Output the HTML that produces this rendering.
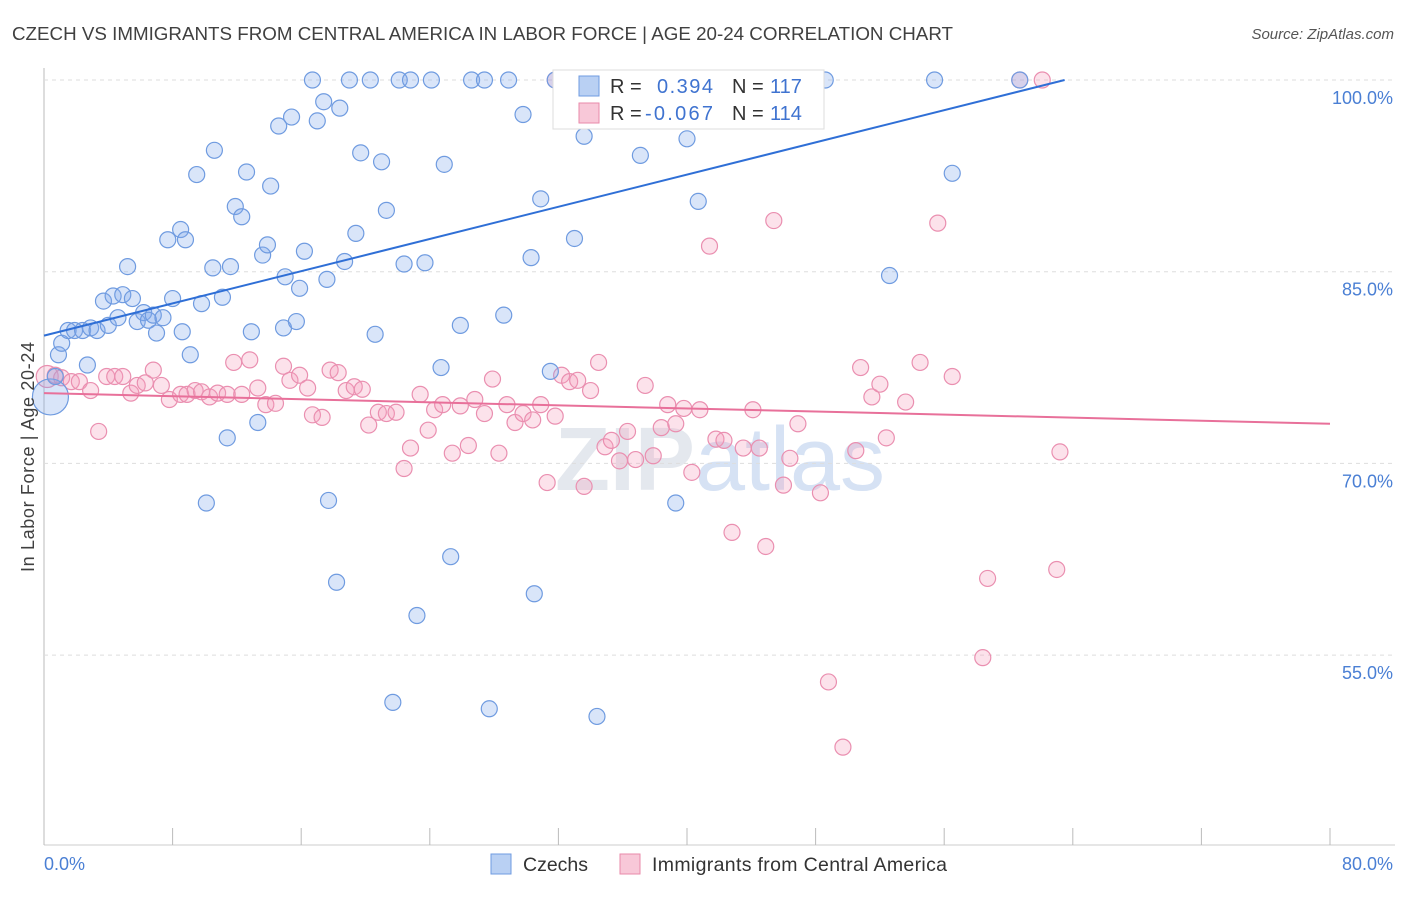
<!DOCTYPE html>
<html><head><meta charset="utf-8"><style>
body{margin:0;background:#fff;font-family:"Liberation Sans",sans-serif}
svg text{font-family:"Liberation Sans",sans-serif}
</style></head><body>
<svg id="c" width="1406" height="892">
<text x="12" y="40" font-size="18.5" fill="#404040" textLength="941" lengthAdjust="spacingAndGlyphs">CZECH VS IMMIGRANTS FROM CENTRAL AMERICA IN LABOR FORCE | AGE 20-24 CORRELATION CHART</text>
<text x="1394" y="39" font-size="15" fill="#555" font-style="italic" text-anchor="end">Source: ZipAtlas.com</text>
<text x="720" y="490" font-size="90" fill="#e4e8ee" text-anchor="middle" font-weight="bold">ZIP<tspan fill="#d6e2f4" font-weight="normal">atlas</tspan></text>
<g id="grid"></g><g id="pts"></g><g id="lines"></g>
<text transform="translate(34,457) rotate(-90)" font-size="18" fill="#404040" text-anchor="middle" textLength="230">In Labor Force | Age 20-24</text>
<text x="44" y="870" font-size="18" fill="#4a7fd4">0.0%</text>
<text x="1393" y="870" font-size="18" fill="#4a7fd4" text-anchor="end">80.0%</text>
<g>
<rect x="553" y="70" width="271" height="59" fill="#fff" stroke="#ddd"/>
<rect x="579" y="76" width="20" height="20" fill="#b9d0f3" stroke="#6f9be0"/>
<rect x="579" y="103" width="20" height="20" fill="#f8c8d8" stroke="#e98aaa"/>
<text x="610" y="93" font-size="20" fill="#333">R =</text>
<text x="657" y="93" font-size="20" fill="#3f73d0" textLength="56">0.394</text>
<text x="732" y="93" font-size="20" fill="#333">N =</text>
<text x="770" y="93" font-size="20" fill="#3f73d0">117</text>
<text x="610" y="120" font-size="20" fill="#333">R =</text>
<text x="645" y="120" font-size="20" fill="#3f73d0" textLength="68">-0.067</text>
<text x="732" y="120" font-size="20" fill="#333">N =</text>
<text x="770" y="120" font-size="20" fill="#3f73d0">114</text>
</g>
<g>
<rect x="491" y="854" width="20" height="20" fill="#b9d0f3" stroke="#6f9be0"/>
<text x="523" y="871" font-size="19.5" fill="#333" textLength="65">Czechs</text>
<rect x="620" y="854" width="20" height="20" fill="#f8c8d8" stroke="#e98aaa"/>
<text x="652" y="871" font-size="19.5" fill="#333" textLength="295">Immigrants from Central America</text>
</g>
</svg>
<script>
const yTicks=[100,85,70,55];
const yTickLabels=["100.0%","85.0%","70.0%","55.0%"];
const xTicks=[0,8,16,24,32,40,48,56,64,72,80];
const blueX=[0.4,0.7,0.9,1.1,1.5,1.9,2.4,2.9,3.3,4.0,2.7,3.7,4.3,4.9,5.5,4.6,5.2,5.8,6.2,6.5,6.8,7.0,7.4,8.0,8.6,9.1,7.7,8.5,8.8,9.5,10.6,10.5,11.6,11.1,9.8,11.9,12.3,12.6,12.9,13.6,13.9,14.1,14.6,15.4,15.0,14.9,15.7,15.9,16.2,17.0,17.4,18.4,17.6,18.7,19.4,19.7,21.0,21.3,20.6,22.4,23.7,24.9,25.9,24.7,28.6,30.3,30.9,29.8,33.0,33.6,37.1,40.0,40.7,52.6,56.5,31.5,16.7,19.0,20.3,22.1,22.8,24.1,26.6,27.4,28.9,31.8,35.5,41.3,43.3,44.5,48.6,55.4,60.7,11.4,13.3,10.1,17.7,18.2,25.3,30.5,23.2,21.7,27.7,34.4,39.3];
const blueY=[75.2,76.8,78.5,79.4,80.4,80.4,80.4,80.6,80.4,80.8,77.7,82.7,83.1,83.2,82.9,81.4,85.4,81.1,81.8,81.2,81.6,80.2,81.4,82.9,80.3,78.5,87.5,88.3,87.5,92.6,94.5,85.3,85.4,83.0,82.5,90.1,89.3,92.8,80.3,86.3,87.1,91.7,96.4,97.1,84.6,80.6,81.1,83.7,86.6,96.8,98.3,97.8,84.4,85.8,88.0,94.3,93.6,89.8,80.1,85.6,85.7,93.4,80.8,77.5,81.6,86.1,90.7,97.3,87.6,95.6,94.1,95.4,90.5,84.7,92.7,77.2,100,100,100,100,100,100,100,100,100,100,100,100,100,100,100,100,100,72.0,73.2,66.9,67.1,60.7,62.7,59.8,58.1,51.3,50.8,50.2,66.9];
const pinkX=[0.2,0.7,1.1,1.7,2.2,2.9,3.4,3.9,4.4,4.9,5.4,5.8,6.3,6.8,7.3,7.8,8.5,8.9,9.4,9.8,10.3,10.8,11.4,11.8,12.3,12.8,13.3,13.8,14.4,14.9,15.3,15.9,16.4,16.7,17.3,17.8,18.3,18.8,19.3,19.8,20.2,20.8,21.3,21.9,22.4,22.8,23.4,23.9,24.3,24.8,25.4,25.9,26.4,26.8,27.4,27.9,28.3,28.8,29.3,29.8,30.4,30.9,31.3,31.8,32.2,32.7,33.2,33.6,34.0,34.5,34.9,35.3,35.8,36.3,36.8,37.4,37.9,38.4,38.8,39.3,39.8,40.3,40.8,41.4,41.8,42.3,42.8,43.5,44.1,44.5,44.9,45.4,46.0,46.4,46.9,48.3,48.8,49.7,50.5,50.8,51.5,52.0,52.4,53.6,54.5,55.6,56.5,58.4,58.7,63.0,63.2,60.7,62.1,47.7,35.8,31.8];
const pinkY=[76.8,76.9,76.7,76.4,76.4,75.7,72.5,76.8,76.8,76.8,75.5,76.1,76.3,77.3,76.1,75.0,75.4,75.4,75.7,75.6,75.2,75.5,75.4,77.9,75.4,78.1,75.9,74.6,74.7,77.6,76.5,76.9,75.9,73.8,73.6,77.3,77.1,75.7,76.0,75.8,73.0,74.0,73.9,74.0,69.6,71.2,75.4,72.6,74.2,74.6,70.8,74.5,71.4,75.0,73.9,76.6,70.8,74.6,73.2,73.9,73.4,74.6,68.5,73.7,76.9,76.4,76.5,68.2,75.7,77.9,71.3,71.8,70.2,72.5,70.3,76.1,70.6,72.8,74.6,73.1,74.3,69.3,74.2,87.0,71.9,71.8,64.6,71.2,74.2,71.2,63.5,89.0,68.3,70.4,73.1,67.7,52.9,47.8,71.0,77.5,75.2,76.2,72.0,74.8,77.9,88.8,76.8,54.8,61.0,61.7,70.9,100,100,100,100,100];
const blueTrend=[80.0,0.315];
const pinkTrend=[75.5,-0.03];
const NS="http://www.w3.org/2000/svg";
const sx=v=>44+v/80*1286;
const sy=v=>80+(100-v)*12.78;
function mk(tag,attrs,parent){const e=document.createElementNS(NS,tag);for(const k in attrs)e.setAttribute(k,attrs[k]);parent.appendChild(e);return e;}
const grid=document.getElementById('grid');
const ax=mk('line',{x1:44,y1:68,x2:44,y2:845,stroke:'#bbb'},grid);


const bx=mk('line',{x1:44,y1:845,x2:1395,y2:845,stroke:'#ccc'},grid);


yTicks.forEach((v,i)=>{
 const l=mk('line',{x1:44,x2:1395,y1:sy(v),y2:sy(v),stroke:'#ddd','stroke-dasharray':'4,4'},grid);
 
 
 const t=mk('text',{x:1393,y:sy(v)+24,'font-size':18,fill:'#4a7fd4','text-anchor':'end'},grid);
 t.textContent=yTickLabels[i];
 
 
});
xTicks.forEach(v=>{
 const l=mk('line',{x1:sx(v),x2:sx(v),y1:828,y2:845,stroke:'#bbb'},grid);
 
 
});
const pts=document.getElementById('pts');
pinkX.forEach((x,i)=>{
 const c=mk('circle',{cx:sx(x),cy:sy(pinkY[i]),r:i==0?11:8,fill:'rgba(244,160,190,0.3)',stroke:'#ea8fb0','stroke-width':1.2},pts);
 
 
});
blueX.forEach((x,i)=>{
 const c=mk('circle',{cx:sx(x),cy:sy(blueY[i]),r:i==0?18:8,fill:'rgba(130,170,235,0.3)',stroke:'#6f9be0','stroke-width':1.2},pts);
 
 
});
const lines=document.getElementById('lines');
const bEnd=(100-blueTrend[0])/blueTrend[1];
const bl=mk('line',{x1:sx(0),y1:sy(blueTrend[0]),x2:sx(bEnd),y2:sy(100),stroke:'#2f6fd6','stroke-width':2},lines);


const pl=mk('line',{x1:sx(0),y1:sy(pinkTrend[0]),x2:sx(80),y2:sy(pinkTrend[0]+pinkTrend[1]*80),stroke:'#e8709a','stroke-width':2},lines);


</script>
</body></html>
